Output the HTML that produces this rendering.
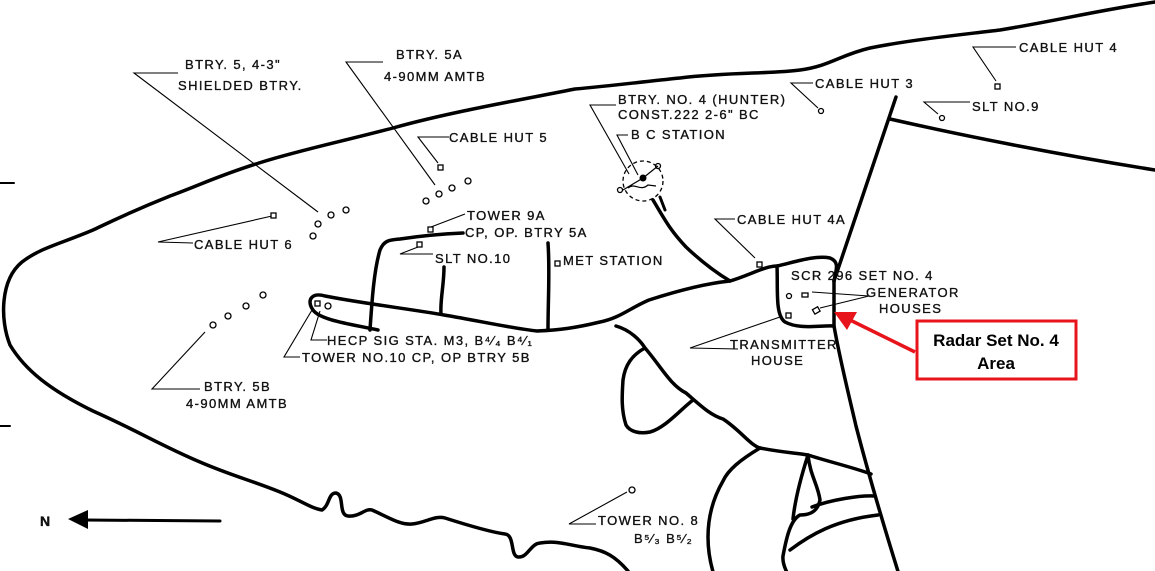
<!DOCTYPE html>
<html><head><meta charset="utf-8"><style>
html,body{margin:0;padding:0;background:#fff;}
svg{display:block}
.t{font-family:"Liberation Sans",sans-serif;font-size:13px;fill:#111;letter-spacing:1.4px;stroke:#111;stroke-width:0.35}
</style></head><body>
<svg width="1155" height="571" viewBox="0 0 1155 571" xmlns="http://www.w3.org/2000/svg">
<g fill="none" stroke="#000" stroke-linecap="round" stroke-linejoin="round">
<path stroke-width="3.5" d="M1155,2 C1100,10 1060,20 1000,30 C950,36 910,40 870,48 C840,55 830,66 800,70 C770,74 730,72 680,78 C640,82 610,86 575,89 C520,100 450,112 393,128 C340,142 300,150 259,163 C220,175 200,185 170,196 C130,212 110,222 93,230 C60,244 40,248 22,262 C0,280 0,320 10,345 C25,370 50,390 93,411 C140,432 160,445 200,462 C230,475 250,480 280,492 C300,500 310,508 322,510 C330,505 328,493 336,493 C345,495 338,515 348,516 C360,517 365,508 372,510 C390,518 400,525 412,524 C425,523 435,515 445,518 C470,526 490,532 505,534 C515,535 510,556 518,557 C528,558 530,544 540,543 C560,540 570,546 590,548 C605,551 615,556 628,571"/>
<path stroke-width="2" d="M0,183 L14,183 M0,426 L10,426"/>
<path stroke-width="3" d="M85,520 L220,521"/>
<path stroke-width="3.5" d="M378,330 C350,324 320,320 313,310 C306,300 312,292 325,296 C360,303 410,309 444,315 C480,321 510,328 537,331 C560,330 575,328 600,322 C620,318 630,308 649,300 C680,290 710,283 730,281 C750,275 765,266 777,266 C795,262 815,255 830,258 C840,262 836,270 834,281"/>
<path stroke-width="3.5" d="M370,330 C372,300 374,270 380,250 C384,240 390,240 400,239 C420,236 440,234 463,233"/>
<path stroke-width="3.5" d="M444,267 C444,285 440,300 441,314"/>
<path stroke-width="3.5" d="M548,243 C550,270 548,300 548,330"/>
<path stroke-width="3.5" d="M653,200 C665,220 670,230 686,247 C705,265 720,275 730,281"/>
<path stroke-width="3" d="M660,197 L665,210"/>
<path stroke-width="3.5" d="M777,266 C778,290 775,315 785,322 C800,330 820,325 834,326"/>
<path stroke-width="3.5" d="M834,281 L896,97"/>
<path stroke-width="3.5" d="M834,281 L834,326 C840,360 850,400 856,426 C870,480 885,530 901,581"/>
<path stroke-width="3.5" d="M890,119 C960,135 1060,155 1155,170"/>
<path stroke-width="3.5" d="M616,326 C630,330 640,340 645,348 C660,365 670,385 686,393 C700,405 710,415 723,419 C740,430 750,445 760,448 C780,452 795,453 808,455 C830,462 855,468 871,474"/>
<path stroke-width="3.5" d="M645,348 C632,355 625,365 623,380 C622,395 621,410 626,425 C630,432 640,434 650,432 C665,428 680,410 693,400"/>
<path stroke-width="3.5" d="M760,448 C740,460 728,470 723,481 C712,500 708,520 708,537 C708,555 712,570 716,581"/>
<path stroke-width="3.5" d="M808,455 C810,475 818,485 820,500 C818,510 812,515 800,515 C790,520 786,540 783,556 C782,565 788,575 792,581"/>
<path stroke-width="3.5" d="M808,455 C800,480 795,500 793,519"/>
<path stroke-width="3.5" d="M812,507 C830,500 860,495 875,496"/>
<path stroke-width="3.5" d="M790,550 C810,535 835,520 878,515"/>
</g>
<polygon points="68,519 88,510 88,529" fill="#000"/>
<text x="40" y="526" class="t" style="font-weight:bold;font-size:14px">N</text>
<g fill="none" stroke="#000" stroke-width="1.1">
<path d="M178,73 L134,73 L318,212"/>
<path d="M383,62 L346,62 L435,185"/>
<path d="M449,137 L418,137 L438,163"/>
<path d="M193,243 L158,242 L272,216"/>
<path d="M431,227 L465,214"/>
<path d="M433,254 L400,254 L418,247"/>
<path d="M327,340 L311,340 L320,311"/>
<path d="M300,357 L284,357 L312,310"/>
<path d="M200,389 L152,389 L205,332"/>
<path d="M616,105 L590,105 L629,174"/>
<path d="M628,135 L617,135 L638,175"/>
<path d="M813,83 L791,83 L818,108"/>
<path d="M1016,47 L973,47 L996,81"/>
<path d="M970,102 L924,102 L938,114"/>
<path d="M735,219 L715,219 L755,258"/>
<path d="M869,296 L812,292 M869,296 L820,308"/>
<path d="M738,349 L690,348 L780,317"/>
<path d="M596,524 L569,524 L627,492"/>
</g>
<g fill="#fff" stroke="#000" stroke-width="1.3">
<circle cx="313" cy="236" r="3"/><circle cx="318" cy="224" r="3"/><circle cx="331" cy="215" r="3"/><circle cx="346" cy="210" r="3"/>
<circle cx="426" cy="201" r="3"/><circle cx="439" cy="194" r="3"/><circle cx="452" cy="188" r="3"/><circle cx="468" cy="181" r="3"/>
<circle cx="213" cy="325" r="3"/><circle cx="228" cy="316" r="3"/><circle cx="246" cy="306" r="3"/><circle cx="263" cy="295" r="3"/>
<rect x="438" y="165" width="5" height="5"/><rect x="271" y="213" width="5" height="5"/>
<rect x="428" y="227" width="5" height="5"/><rect x="417" y="242" width="5" height="5"/>
<rect x="555" y="261" width="5" height="5"/>
<rect x="315" y="301" width="5" height="5"/><circle cx="328" cy="306" r="3"/>
<circle cx="821" cy="111" r="2.5"/><rect x="995" y="84" width="5" height="5"/><circle cx="942" cy="118" r="2.5"/>
<rect x="757" y="262" width="5" height="5"/>
<circle cx="789" cy="296" r="2.5"/><rect x="802" y="293" width="6" height="4"/><rect x="813" y="308" width="6" height="5" transform="rotate(-30 816 310)"/>
<rect x="786" y="313" width="5" height="5"/><circle cx="632" cy="490" r="3"/>
<circle cx="658" cy="166" r="2.5"/><circle cx="620" cy="190" r="2.5"/>
</g>
<circle cx="643" cy="181" r="20" fill="none" stroke="#000" stroke-width="1.3" stroke-dasharray="4,3"/>
<circle cx="643" cy="178" r="3.5" fill="#000"/>
<path d="M623,190 L643,178 L658,166 M628,188 C635,182 640,192 648,185 L656,186" fill="none" stroke="#000" stroke-width="1.2"/>
<g class="t">
<text x="185" y="69">BTRY. 5, 4-3"</text>
<text x="178" y="90">SHIELDED BTRY.</text>
<text x="396" y="59">BTRY.  5A</text>
<text x="384" y="81">4-90MM AMTB</text>
<text x="449" y="142">CABLE HUT  5</text>
<text x="194" y="249">CABLE HUT  6</text>
<text x="467" y="220">TOWER  9A</text>
<text x="465" y="237">CP, OP. BTRY 5A</text>
<text x="435" y="263">SLT NO.10</text>
<text x="563" y="265">MET STATION</text>
<text x="327" y="345">HECP  SIG STA. M3, B⁴⁄₄ B⁴⁄₁</text>
<text x="302" y="362">TOWER NO.10  CP, OP BTRY 5B</text>
<text x="204" y="391">BTRY.  5B</text>
<text x="186" y="408">4-90MM  AMTB</text>
<text x="618" y="104">BTRY. NO. 4 (HUNTER)</text>
<text x="618" y="119">CONST.222   2-6" BC</text>
<text x="631" y="139">B C  STATION</text>
<text x="815" y="88">CABLE HUT  3</text>
<text x="1019" y="52">CABLE  HUT  4</text>
<text x="972" y="111">SLT  NO.9</text>
<text x="737" y="224">CABLE HUT 4A</text>
<text x="791" y="280">SCR 296  SET NO. 4</text>
<text x="866" y="297">GENERATOR</text>
<text x="879" y="313">HOUSES</text>
<text x="730" y="349">TRANSMITTER</text>
<text x="751" y="365">HOUSE</text>
<text x="598" y="525">TOWER NO. 8</text>
<text x="634" y="543">B⁵⁄₃ B⁵⁄₂</text>
</g>
<line x1="915" y1="352" x2="848" y2="319" stroke="#e8141b" stroke-width="3.5"/>
<polygon points="834,312 857,312 847,330" fill="#e8141b"/>
<rect x="917" y="321" width="159" height="58" fill="#fff" stroke="#e8141b" stroke-width="3"/>
<text x="996" y="346" text-anchor="middle" style="font-family:'Liberation Sans',sans-serif;font-weight:bold;font-size:17px">Radar Set No. 4</text>
<text x="996" y="369" text-anchor="middle" style="font-family:'Liberation Sans',sans-serif;font-weight:bold;font-size:17px">Area</text>
</svg>
</body></html>
